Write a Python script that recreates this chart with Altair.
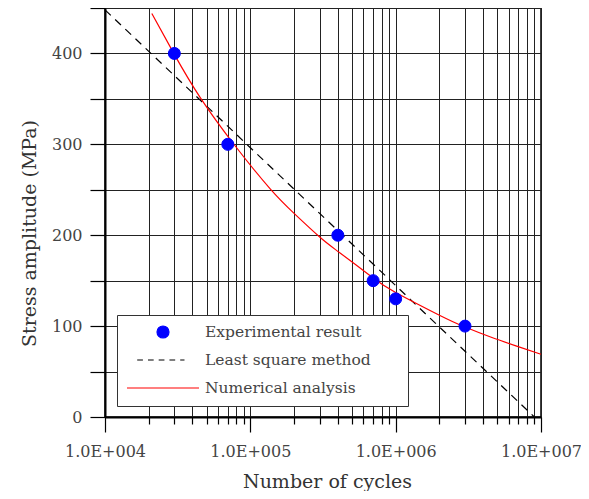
import altair as alt
import pandas as pd

# ---- data ----
exp_cycles = [3e4, 7e4, 4e5, 7e5, 1e6, 3e6]
exp_stress = [400, 300, 200, 150, 130, 100]

lsm_cycles = [1e4, 9e6]
lsm_stress = [448, 0]

num_cycles = [2.1e4, 3e4, 4.5e4, 7.8e4, 1.37e5, 2e5, 3e5, 4.1e5, 7e5, 1e6, 2e6, 3e6, 4.5e6, 6.8e6, 1e7]
num_stress = [444, 399, 352, 299, 251, 224, 198, 181, 153, 137, 112, 99, 88, 78, 69]

series_names = ["Experimental result", "Least square method", "Numerical analysis"]
series_colors = ["#0000ff", "#000000", "#ff0000"]
legend_shapes = ["circle",
                 "M-1,0H-0.778M-0.583,0H-0.361M-0.167,0H0.056M0.25,0H0.472M0.667,0H0.833",
                 "stroke"]
legend_sizes = [144, 5184, 5184]

x_ticks = [1e4, 2e4, 3e4, 4e4, 5e4, 6e4, 7e4, 8e4, 9e4,
           1e5, 2e5, 3e5, 4e5, 5e5, 6e5, 7e5, 8e5, 9e5,
           1e6, 2e6, 3e6, 4e6, 5e6, 6e6, 7e6, 8e6, 9e6, 1e7]
y_ticks = [0, 50, 100, 150, 200, 250, 300, 350, 400, 450]

exp_df = pd.DataFrame({"N": exp_cycles, "S": exp_stress, "series": series_names[0]})
lsm_df = pd.DataFrame({"N": lsm_cycles, "S": lsm_stress, "series": series_names[1]})
num_df = pd.DataFrame({"N": num_cycles, "S": num_stress, "series": series_names[2]})

FONT = "DejaVu Serif"
major = "abs(log(datum.value)/LN10 - round(log(datum.value)/LN10)) < 0.001"

x_enc = alt.X(
    "N:Q",
    scale=alt.Scale(type="log", domain=[1e4, 1e7], nice=False),
    axis=alt.Axis(
        values=x_ticks,
        grid=True, gridColor="#222222", gridWidth=1,
        tickColor="#000000", tickWidth=1.2,
        tickSize={"condition": {"test": major, "value": 15}, "value": 7},
        domainColor="#000000", domainWidth=2,
        labelExpr=major + " ? '1.0E+00' + round(log(datum.value)/LN10) : ''",
        labelFont=FONT, labelFontSize=16, labelColor="#444444",
        labelPadding=11, labelFlush=False, labelOverlap=False,
        title="Number of cycles", titleFont=FONT, titleFontSize=19,
        titleFontWeight="normal", titleColor="#333333", titlePadding=13,
        titleX=222,
    ),
)
y_enc = alt.Y(
    "S:Q",
    scale=alt.Scale(domain=[0, 450], nice=False),
    axis=alt.Axis(
        values=y_ticks,
        grid=True, gridColor="#222222", gridWidth=1,
        tickColor="#000000", tickWidth=1.2, tickSize=15,
        domainColor="#000000", domainWidth=2,
        labelExpr="datum.value % 100 == 0 ? datum.label : ''",
        labelFont=FONT, labelFontSize=16, labelColor="#444444",
        labelPadding=8, labelOverlap=False,
        title="Stress amplitude (MPa)", titleFont=FONT, titleFontSize=19,
        titleFontWeight="normal", titleColor="#333333", titlePadding=12,
        titleY=225,
    ),
)

lsm_line = alt.Chart(lsm_df).mark_line(
    color="#000000", strokeDash=[8, 6], strokeWidth=1.2
).encode(x=x_enc, y=y_enc)

num_line = alt.Chart(num_df).mark_line(
    color="#ff0000", strokeWidth=1.2, interpolate="natural"
).encode(x="N:Q", y="S:Q")

# trailing blanks (braille blank is not trimmed) widen the legend box like the reference
lab = "datum.label + '\u00a0\u2800\u2800'"
points = alt.Chart(exp_df).mark_point(filled=True, opacity=1, strokeWidth=1).encode(
    x="N:Q",
    y="S:Q",
    fill=alt.Fill("series:N", scale=alt.Scale(domain=series_names, range=series_colors),
                  legend=alt.Legend(title=None, labelExpr=lab)),
    stroke=alt.Stroke("series:N", scale=alt.Scale(domain=series_names, range=series_colors),
                      legend=alt.Legend(title=None, labelExpr=lab)),
    shape=alt.Shape("series:N", scale=alt.Scale(domain=series_names, range=legend_shapes),
                    legend=alt.Legend(title=None, labelExpr=lab)),
    size=alt.Size("series:N", scale=alt.Scale(domain=series_names, range=legend_sizes),
                  legend=alt.Legend(title=None, labelExpr=lab)),
)

chart = alt.layer(lsm_line, num_line, points).properties(
    width=436, height=409,
    autosize=alt.AutoSizeParams(type="none"),
    padding={"left": 97, "top": 0, "right": 40, "bottom": 74},
).configure_view(
    stroke="#000000", strokeWidth=1.5
).configure_legend(
    orient="none", legendX=12, legendY=307,
    padding=9, clipHeight=16, rowPadding=11, labelOffset=5,
    strokeColor="#333333", fillColor="#ffffff",
    symbolStrokeWidth=1.2, labelFont=FONT, labelFontSize=15.5,
    labelColor="#444444", labelLimit=400,
)

chart.save("out.html", embed_options={"renderer": "svg", "actions": False})
